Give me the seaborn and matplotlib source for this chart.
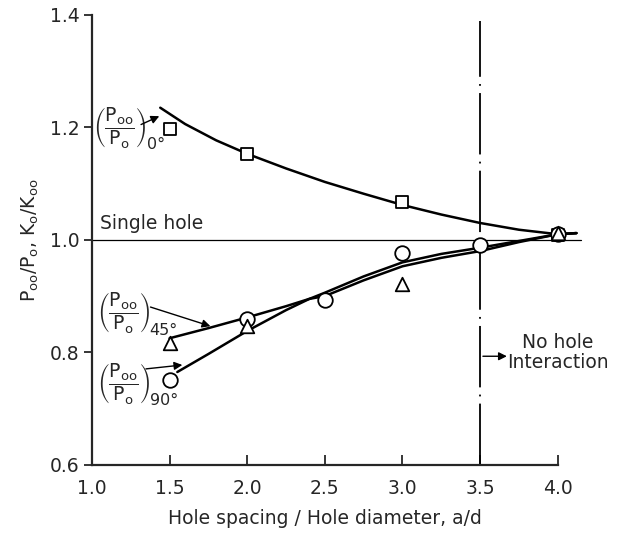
import matplotlib
matplotlib.use("Agg")
import matplotlib.pyplot as plt
import seaborn as sns
import pandas as pd

# measured points
x_sq = [1.5, 2.0, 3.0, 4.0]
y_sq = [1.198, 1.152, 1.067, 1.008]
x_ci = [1.5, 2.0, 2.5, 3.0, 3.5, 4.0]
y_ci = [0.75, 0.86, 0.893, 0.977, 0.99, 1.01]
x_tr = [1.5, 2.0, 3.0, 4.0]
y_tr = [0.817, 0.847, 0.922, 1.012]

# fitted curves
x_c0 = [1.44, 1.6, 1.8, 2.0, 2.25, 2.5, 2.75, 3.0, 3.25, 3.5, 3.75, 4.0, 4.12]
y_c0 = [1.235, 1.206, 1.177, 1.153, 1.127, 1.103, 1.082, 1.062, 1.045, 1.03, 1.018, 1.01, 1.012]
x_c45 = [1.5, 1.75, 2.0, 2.25, 2.4, 2.5, 2.75, 3.0, 3.25, 3.5, 3.75, 4.0, 4.12]
y_c45 = [0.825, 0.843, 0.862, 0.882, 0.895, 0.9, 0.928, 0.953, 0.968, 0.98, 0.996, 1.01, 1.012]
x_c90 = [1.55, 1.75, 2.0, 2.25, 2.4, 2.5, 2.75, 3.0, 3.25, 3.5, 3.75, 4.0, 4.12]
y_c90 = [0.765, 0.797, 0.838, 0.875, 0.895, 0.906, 0.935, 0.96, 0.975, 0.986, 0.998, 1.01, 1.012]

x_ticks = [1.0, 1.5, 2.0, 2.5, 3.0, 3.5, 4.0]
y_ticks = [0.6, 0.8, 1.0, 1.2, 1.4]
single_hole = 1.0
no_interaction_x = 3.5

sns.set_style("ticks")
plt.rcParams['font.family'] = ['DejaVu Sans']
plt.rcParams['mathtext.fontset'] = 'dejavusans'

fig = plt.figure(figsize=(6.17, 5.33), dpi=100)
ax = fig.add_axes([0.149, 0.128, 0.755, 0.844])

ax.set_xlim(1.0, 4.0)
ax.set_ylim(0.6, 1.4)

# single hole line
ax.plot([1.0, 4.15], [single_hole, single_hole], color='black', lw=0.9, clip_on=False)
ax.text(1.05, 1.012, "Single hole", fontsize=13.5, ha='left', va='bottom')

# vertical no-interaction line
ax.plot([no_interaction_x, no_interaction_x], [0.6, 1.39], color='black', lw=1.3,
        dashes=(34, 4, 1, 4))

kw = dict(color='black', lw=1.8, sort=False, ax=ax, legend=False)
for xs, ys in [(x_c0, y_c0), (x_c45, y_c45), (x_c90, y_c90)]:
    d = pd.DataFrame({'x': xs, 'y': ys})
    sns.lineplot(data=d, x='x', y='y', **kw)
for l in ax.lines:
    l.set_clip_on(False)

mk = dict(facecolor='white', edgecolor='black', linewidth=1.3, ax=ax, zorder=5, clip_on=False)
sns.scatterplot(x=x_sq, y=y_sq, marker='s', s=85, **mk)
sns.scatterplot(x=x_ci, y=y_ci, marker='o', s=110, **mk)
sns.scatterplot(x=x_tr, y=y_tr, marker='^', s=95, **mk)

# curve labels
frac = r'$\left(\dfrac{\mathrm{P_{oo}}}{\mathrm{P_o}}\right)$'
label_specs = [(1.01, 1.2, '0°'), (1.03, 0.87, '45°'), (1.03, 0.745, '90°')]
for lx, ly, sub in label_specs:
    t = ax.text(lx, ly, frac, fontsize=13.5, ha='left', va='center')
    ax.annotate(sub, xy=(1.0, 0.12), xycoords=t, fontsize=11.5, ha='left', va='center')

ax.annotate('', xy=(1.45, 1.222), xytext=(1.3, 1.203),
            arrowprops=dict(arrowstyle='-|>', color='black', lw=1.0, mutation_scale=12))
ax.annotate('', xy=(1.78, 0.845), xytext=(1.36, 0.882),
            arrowprops=dict(arrowstyle='-|>', color='black', lw=1.0, mutation_scale=12))
ax.annotate('', xy=(1.6, 0.778), xytext=(1.33, 0.77),
            arrowprops=dict(arrowstyle='-|>', color='black', lw=1.0, mutation_scale=12))

# no hole interaction
ax.annotate('', xy=(3.69, 0.793), xytext=(3.5, 0.793),
            arrowprops=dict(arrowstyle='-|>', color='black', lw=1.0, mutation_scale=12))
ax.text(4.0, 0.80, "No hole\nInteraction", fontsize=13.5, ha='center', va='center',
        linespacing=1.1)

ax.set_xticks(x_ticks)
ax.set_yticks(y_ticks)
ax.set_xticklabels([f"{v:.1f}" for v in x_ticks], fontsize=13.5)
ax.set_yticklabels([f"{v:.1f}" for v in y_ticks], fontsize=13.5)
ax.tick_params(axis='x', direction='in', length=7, width=1.3, pad=10)
ax.tick_params(axis='y', direction='out', length=6, width=1.3, pad=3)
ax.set_xlabel("Hole spacing / Hole diameter, a/d", fontsize=13.5, labelpad=8)
ax.set_ylabel(r"P$_{\mathrm{oo}}$/P$_{\mathrm{o}}$, K$_{\mathrm{o}}$/K$_{\mathrm{oo}}$", fontsize=13.5, labelpad=6)

sns.despine(ax=ax)
for s in ['left', 'bottom']:
    ax.spines[s].set_linewidth(1.6)

fig.savefig("out.png", dpi=100)
